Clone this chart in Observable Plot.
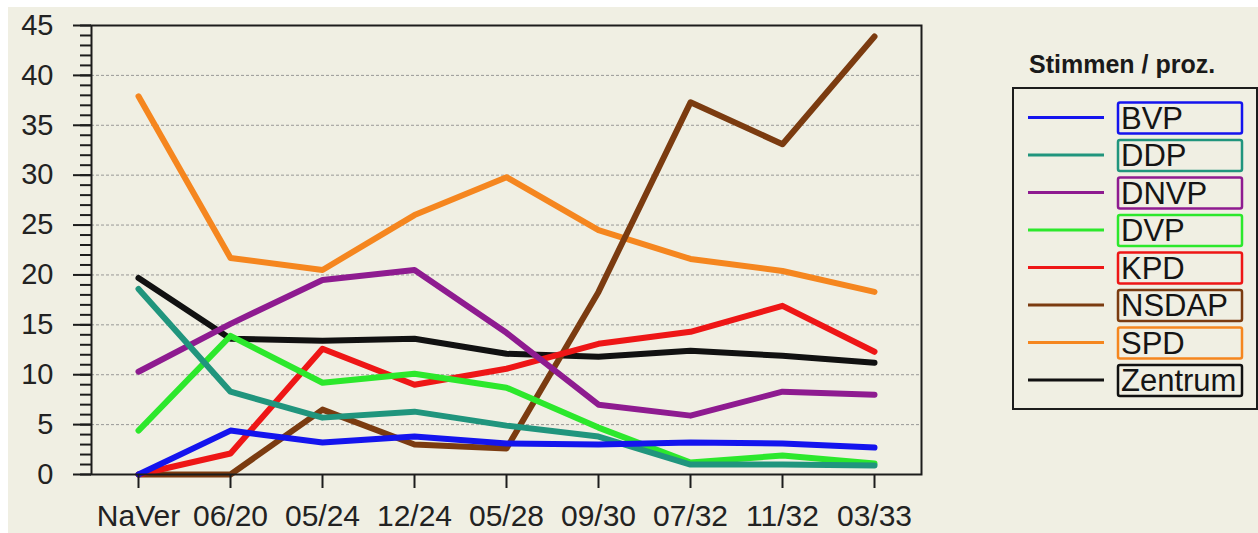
<!DOCTYPE html>
<html>
<head>
<meta charset="utf-8">
<script src="https://cdn.jsdelivr.net/npm/d3@7"></script>
<script src="https://cdn.jsdelivr.net/npm/@observablehq/plot@0.6"></script>
<style>
  html, body { margin: 0; padding: 0; background: #ffffff; }
  #wrap { position: relative; width: 1258px; height: 533px; overflow: hidden; background: #ffffff; }
  #bg { position: absolute; left: 8px; top: 7px; width: 1250px; height: 526px; background: #f0efe3; }
  #chart { position: absolute; left: 0; top: 0; }
  #legend { position: absolute; left: 0; top: 0; }
  svg { font-family: "Liberation Sans", Arial, sans-serif; }
</style>
</head>
<body>
<div id="wrap"><div id="bg"></div><div id="chart"></div><div id="legend"></div></div>
<script>
// ---- data ----
const categories = ["NaVer", "06/20", "05/24", "12/24", "05/28", "09/30", "07/32", "11/32", "03/33"];
const parties = ["BVP", "DDP", "DNVP", "DVP", "KPD", "NSDAP", "SPD", "Zentrum"];
const partyColors = ["#1414ee", "#20957d", "#8e1b90", "#2ce82c", "#ee1616", "#7b3b10", "#f5861f", "#111111"];
const legendTitle = "Stimmen / proz.";

const BVP     = [0, 4.4, 3.2, 3.8, 3.1, 3.0, 3.2, 3.1, 2.7];
const DDP     = [18.6, 8.3, 5.7, 6.3, 4.9, 3.8, 1.0, 1.0, 0.9];
const DNVP    = [10.3, 15.1, 19.5, 20.5, 14.2, 7.0, 5.9, 8.3, 8.0];
const DVP     = [4.4, 13.9, 9.2, 10.1, 8.7, 4.7, 1.2, 1.9, 1.1];
const KPD     = [0, 2.1, 12.6, 9.0, 10.6, 13.1, 14.3, 16.9, 12.3];
const NSDAP   = [0, 0, 6.5, 3.0, 2.6, 18.3, 37.3, 33.1, 43.9];
const SPD     = [37.9, 21.7, 20.5, 26.0, 29.8, 24.5, 21.6, 20.4, 18.3];
const Zentrum = [19.7, 13.6, 13.4, 13.6, 12.1, 11.8, 12.4, 11.9, 11.2];

const yMajorTicks = [0, 5, 10, 15, 20, 25, 30, 35, 40, 45];
const yMinorTicks = d3.range(0, 46, 1);
const yGrid = [5, 10, 15, 20, 25, 30, 35, 40];

const series = {BVP, DDP, DNVP, DVP, KPD, NSDAP, SPD, Zentrum};

// draw in reverse legend order (BVP on top)
const rows = [];
parties.slice().reverse().forEach(p => {
  series[p].forEach((v, i) => rows.push({party: p, cat: categories[i], value: v}));
});

const ink = "#1c1c1c";

const chart = Plot.plot({
  width: 930,
  height: 533,
  marginLeft: 91,
  marginRight: 9,
  marginTop: 25,
  marginBottom: 59,
  style: {background: "transparent", fontFamily: "'Liberation Sans', Arial, sans-serif", color: ink},
  x: {type: "point", domain: categories, padding: 0.5, label: null},
  y: {domain: [0, 45], label: null},
  color: {domain: parties, range: partyColors},
  marks: [
    Plot.gridY(yGrid, {stroke: "#8f8f8f", strokeOpacity: 0.9, strokeDasharray: "3,2", strokeWidth: 1}),
    Plot.lineY(rows, {x: "cat", y: "value", z: "party", stroke: "party", strokeWidth: 6, strokeLinecap: "round", strokeLinejoin: "round"}),
    Plot.axisY(yMinorTicks, {tickSize: 11, tickFormat: () => "", stroke: ink, strokeWidth: 2}),
    Plot.axisY(yMajorTicks, {tickSize: 18, tickPadding: 20, fontSize: 29, stroke: ink, strokeWidth: 2, fill: "#222"}),
    Plot.axisX({tickSize: 14, tickPadding: 16, fontSize: 30, stroke: ink, strokeWidth: 2, fill: "#222"}),
    Plot.frame({stroke: ink, strokeWidth: 2})
  ]
});
document.getElementById("chart").appendChild(chart);

// ---- legend ----
const lg = d3.select("#legend").append("svg").attr("width", 1258).attr("height", 533);
lg.append("text").attr("x", 1029).attr("y", 73)
  .attr("font-size", 25).attr("font-weight", "bold").attr("fill", "#1a1a1a").text(legendTitle);
lg.append("rect").attr("x", 1013).attr("y", 88).attr("width", 244).attr("height", 321)
  .attr("fill", "none").attr("stroke", ink).attr("stroke-width", 2);
parties.forEach((p, i) => {
  const cy = 117.5 + i * 37.5;
  const g = lg.append("g");
  g.append("line").attr("x1", 1028).attr("x2", 1104).attr("y1", cy).attr("y2", cy)
    .attr("stroke", partyColors[i]).attr("stroke-width", 3);
  g.append("rect").attr("x", 1118).attr("y", cy - 15).attr("width", 124).attr("height", 31)
    .attr("fill", "none").attr("stroke", partyColors[i]).attr("stroke-width", 2.5).attr("rx", 2);
  g.append("text").attr("x", 1121).attr("y", cy + 11).attr("font-size", 31).attr("fill", "#151515").text(p);
});
</script>
</body>
</html>
